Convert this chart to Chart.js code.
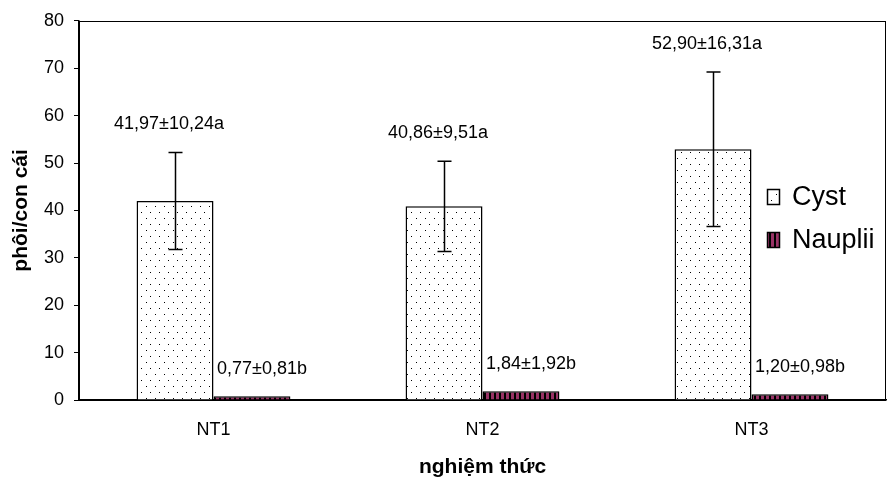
<!DOCTYPE html>
<html>
<head>
<meta charset="utf-8">
<script src="https://cdn.jsdelivr.net/npm/chart.js@4.4.1/dist/chart.umd.min.js"></script>
<style>
  html, body { margin: 0; padding: 0; background: #fff; }
  #chart { display: block; }
</style>
</head>
<body>
<canvas id="chart" width="888" height="485"></canvas>
<script>
(function () {

  var categories = ['NT1', 'NT2', 'NT3'];
  var cystMeans = [41.97, 40.86, 52.90];
  var cystSD = [10.24, 9.51, 16.31];
  var naupliiMeans = [0.77, 1.84, 1.20];
  var naupliiSD = [0.81, 1.92, 0.98];
  var cystLabels = ['41,97±10,24a', '40,86±9,51a', '52,90±16,31a'];
  var naupliiLabels = ['0,77±0,81b', '1,84±1,92b', '1,20±0,98b'];
  var seriesNames = ['Cyst', 'Nauplii'];

  var FONT = "'Liberation Sans', Arial, sans-serif";

  function cystPattern(ctx) {
    var c = document.createElement('canvas');
    c.width = 9; c.height = 12;
    var p = c.getContext('2d');
    p.fillStyle = '#fff';
    p.fillRect(0, 0, 9, 12);
    p.fillStyle = '#000';
    p.fillRect(2, 2, 1, 1);
    p.fillRect(6, 8, 1, 1);
    return ctx.createPattern(c, 'repeat');
  }

  function naupliiPattern(ctx) {
    var c = document.createElement('canvas');
    c.width = 5; c.height = 4;
    var p = c.getContext('2d');
    p.fillStyle = '#000';
    p.fillRect(0, 0, 5, 4);
    p.fillStyle = '#993366';
    p.fillRect(1, 0, 3, 4);
    return ctx.createPattern(c, 'repeat');
  }

  var canvas = document.getElementById('chart');
  var ctx = canvas.getContext('2d');
  var cystFill = cystPattern(ctx);
  var naupFill = naupliiPattern(ctx);

  // error bars, value labels, plot box and the legend
  var extras = {
    id: 'extras',
    afterDatasetsDraw: function (chart) {
      var c = chart.ctx;
      var y = chart.scales.y;
      var area = chart.chartArea;
      var cystMeta = chart.getDatasetMeta(0);
      var naupMeta = chart.getDatasetMeta(1);

      c.save();
      c.strokeStyle = '#000';
      c.lineWidth = 1.5;
      cystMeta.data.forEach(function (bar, i) {
        var x = Math.round(bar.x) + 0.5;
        var yt = y.getPixelForValue(cystMeans[i] + cystSD[i]);
        var yb = y.getPixelForValue(cystMeans[i] - cystSD[i]);
        c.beginPath();
        c.moveTo(x, yt); c.lineTo(x, yb);
        c.moveTo(x - 7, yt); c.lineTo(x + 7, yt);
        c.moveTo(x - 7, yb); c.lineTo(x + 7, yb);
        c.stroke();
      });

      c.fillStyle = '#000';
      c.font = '18px ' + FONT;
      c.textAlign = 'center';
      c.textBaseline = 'middle';
      cystMeta.data.forEach(function (bar, i) {
        var yt = y.getPixelForValue(cystMeans[i] + cystSD[i]);
        c.fillText(cystLabels[i], bar.x - 6, yt - 28);
      });
      naupMeta.data.forEach(function (bar, i) {
        var yt = y.getPixelForValue(naupliiMeans[i]);
        c.fillText(naupliiLabels[i], bar.x + 10, yt - 27);
      });

      // plot area box
      c.lineWidth = 1;
      c.strokeRect(Math.round(area.left) + 0.5, Math.round(area.top) + 0.5,
        Math.round(area.right - area.left) - 1, Math.round(area.bottom - area.top));

      // legend
      var fills = [cystFill, naupFill];
      var rows = [197, 240];
      c.textAlign = 'left';
      c.font = '27px ' + FONT;
      seriesNames.forEach(function (name, i) {
        c.fillStyle = fills[i];
        c.fillRect(767, rows[i] - 8, 13, 16);
        c.strokeStyle = '#000';
        c.lineWidth = 1.5;
        c.strokeRect(767.5, rows[i] - 7.5, 12, 15);
        c.fillStyle = '#000';
        c.fillText(name, 792, rows[i] + 1);
      });
      c.restore();
    }
  };

  new Chart(ctx, {
    type: 'bar',
    data: {
      labels: categories,
      datasets: [{
        label: seriesNames[0],
        data: cystMeans,
        backgroundColor: cystFill,
        borderColor: '#000',
        borderWidth: 1.5,
        categoryPercentage: 0.572,
        barPercentage: 1
      }, {
        label: seriesNames[1],
        data: naupliiMeans,
        backgroundColor: naupFill,
        borderColor: '#000',
        borderWidth: 1.5,
        categoryPercentage: 0.572,
        barPercentage: 1
      }]
    },
    options: {
      responsive: false,
      animation: false,
      layout: { padding: { top: 15, right: 2, left: 0, bottom: 0 } },
      plugins: {
        legend: { display: false },
        tooltip: { enabled: false }
      },
      scales: {
        x: {
          grid: { display: false, drawTicks: false },
          border: { color: '#000', width: 1.5 },
          ticks: { color: '#000', font: { size: 18, family: FONT }, padding: 19 },
          title: {
            display: true,
            text: 'nghiệm thức',
            color: '#000',
            font: { size: 21, weight: 'bold', family: FONT },
            padding: { top: 0, bottom: 5 }
          },
          afterFit: function (s) { s.height = 85; }
        },
        y: {
          min: 0,
          max: 80,
          ticks: { stepSize: 10, color: '#000', font: { size: 18, family: FONT }, padding: 10 },
          grid: { drawOnChartArea: false, drawTicks: true, tickLength: 5, color: '#000' },
          border: { color: '#000', width: 1.5 },
          title: {
            display: true,
            text: 'phôi/con cái',
            color: '#000',
            font: { size: 21, weight: 'bold', family: FONT },
            padding: { top: 9, bottom: 0 }
          },
          afterFit: function (s) { s.width = 79; }
        }
      }
    },
    plugins: [extras]
  });
})();
</script>
</body>
</html>
